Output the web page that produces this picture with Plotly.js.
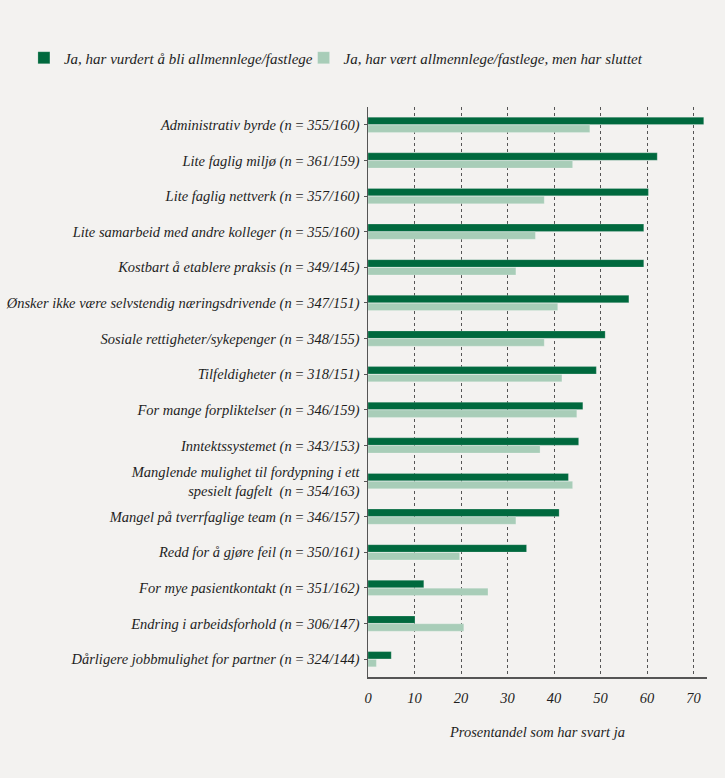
<!DOCTYPE html>
<html>
<head>
<meta charset="utf-8">
<script src="https://cdn.plot.ly/plotly-3.0.1.min.js"></script>
<style>
html,body{margin:0;padding:0;background:#f3f2f0;}
#chart{width:725px;height:778px;}
</style>
</head>
<body>
<div id="chart"></div>
<script>
const TS = "\u2009=\u2009";
const categories = [
  "Administrativ byrde (n" + TS + "355/160)",
  "Lite faglig miljø (n" + TS + "361/159)",
  "Lite faglig nettverk (n" + TS + "357/160)",
  "Lite samarbeid med andre kolleger (n" + TS + "355/160)",
  "Kostbart å etablere praksis (n" + TS + "349/145)",
  "Ønsker ikke være selvstendig næringsdrivende (n" + TS + "347/151)",
  "Sosiale rettigheter/sykepenger (n" + TS + "348/155)",
  "Tilfeldigheter (n" + TS + "318/151)",
  "For mange forpliktelser (n" + TS + "346/159)",
  "Inntektssystemet (n" + TS + "343/153)",
  "Manglende mulighet til fordypning i ett<br>spesielt fagfelt  (n" + TS + "354/163)",
  "Mangel på tverrfaglige team (n" + TS + "346/157)",
  "Redd for å gjøre feil (n" + TS + "350/161)",
  "For mye pasientkontakt (n" + TS + "351/162)",
  "Endring i arbeidsforhold (n" + TS + "306/147)",
  "Dårligere jobbmulighet for partner (n" + TS + "324/144)"
];
const seriesNames = [
  "Ja, har vurdert å bli allmennlege/fastlege",
  "Ja, har vært allmennlege/fastlege, men har sluttet"
];
const considered = [72.2, 62.2, 60.3, 59.3, 59.3, 56.1, 51.0, 49.1, 46.2, 45.3, 43.1, 41.1, 34.1, 12.0, 10.1, 5.0];
const quit =       [47.7, 44.0, 37.9, 36.0, 31.8, 40.8, 37.9, 41.7, 44.9, 37.0, 44.0, 31.8, 19.7, 25.8, 20.6, 1.8];
const xTicks = [0, 10, 20, 30, 40, 50, 60, 70];
const xTitle = "Prosentandel som har svart ja";

const FONT = "Liberation Serif, Times New Roman, serif";
const TXT = '#1e1e1e';

const traces = [
  {type:'bar', orientation:'h', name:seriesNames[0], y:categories, x:considered, legend:'legend',
   marker:{color:'#00693e', line:{color:'rgba(255,255,255,0.35)', width:0.6}}, hoverinfo:'x+y'},
  {type:'bar', orientation:'h', name:seriesNames[1], y:categories, x:quit, legend:'legend2',
   marker:{color:'#a8cdb8', line:{color:'rgba(255,255,255,0.35)', width:0.6}}, hoverinfo:'x+y'}
];

const legendFont = {family:FONT, size:15, style:'italic', color:TXT};

const layout = {
  width:725, height:778,
  paper_bgcolor:'#f3f2f0', plot_bgcolor:'#f3f2f0',
  font:{family:FONT, size:14, color:TXT},
  margin:{l:368, r:18, t:107, b:101},
  barmode:'group', bargap:0.56, bargroupgap:0.06,
  showlegend:true,
  legend:{orientation:'h', x:-1.015, xanchor:'left', y:1.086, yanchor:'middle',
          font:legendFont, itemwidth:30, bgcolor:'rgba(0,0,0,0)'},
  legend2:{orientation:'h', x:-0.19, xanchor:'left', y:1.086, yanchor:'middle',
          font:legendFont, itemwidth:30, bgcolor:'rgba(0,0,0,0)'},
  xaxis:{range:[0,72.9], tickvals:xTicks, ticktext:xTicks.map(String),
         showgrid:true, gridcolor:'#555', griddash:'dot', gridwidth:1,
         zeroline:false, showline:true, linecolor:'#555', linewidth:1.5,
         ticks:'', tickfont:{family:FONT, size:14.5, style:'italic', color:TXT},
         ticklabelstandoff:7,
         title:{text:xTitle, font:{family:FONT, size:14.5, style:'italic', color:TXT}, standoff:22}},
  yaxis:{autorange:'reversed', type:'category', showgrid:false, zeroline:false,
         showline:true, linecolor:'#555', linewidth:1.5, ticks:'outside', ticklen:3, tickcolor:'#555',
         tickfont:{family:FONT, size:14.5, style:'italic', color:TXT},
         ticklabelstandoff:1}
};

Plotly.newPlot('chart', traces, layout, {displayModeBar:false, staticPlot:true});
</script>
</body>
</html>
